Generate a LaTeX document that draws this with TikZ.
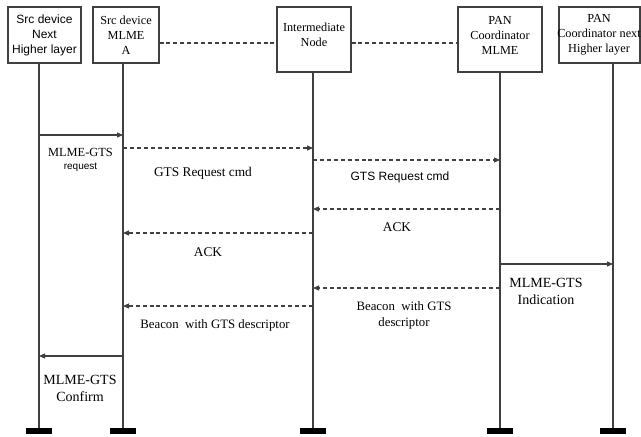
\documentclass[tikz,border=0pt]{standalone}
\usepackage{fontspec}
\setmainfont{Liberation Serif}
\setsansfont{Liberation Sans}
\usetikzlibrary{arrows.meta}
\begin{document}
\begin{tikzpicture}[x=0.75pt,y=-0.75pt,
  lc/.style={draw=black!75, line width=0.8pt},
  box/.style={lc, inner sep=0pt},
  btxt/.style={align=center, inner sep=0pt, font=\fontsize{9.2}{11.25}\selectfont},
  bar/.style={fill=black, inner sep=0pt, minimum width=26*0.75pt, minimum height=6*0.75pt},
  msg/.style={lc, -{Triangle[length=4.5pt,width=3.8pt]}},
  dmsg/.style={msg, dash pattern=on 3pt off 2.2pt},
  dlink/.style={lc, dash pattern=on 3pt off 2.2pt},
  lbl/.style={align=center, inner sep=0pt, font=\fontsize{10}{12.75}\selectfont}
]
\useasboundingbox (0,0) rectangle (641,436);

% boxes
\node[box, minimum width=73*0.75pt, minimum height=56*0.75pt] (box1) at (44.5,35) {};
\node[box, minimum width=66*0.75pt, minimum height=56*0.75pt] (box2) at (126,35) {};
\node[box, minimum width=74*0.75pt, minimum height=65*0.75pt] (box3) at (314,39.5) {};
\node[box, minimum width=84*0.75pt, minimum height=65*0.75pt] (box4) at (500,39.5) {};
\node[box, minimum width=81*0.75pt, minimum height=56*0.75pt] (box5) at (599.5,35) {};

\node[btxt, font=\sffamily\fontsize{9}{11.25}\selectfont] (t1) at (44.5,35) {Src device\\Next\\Higher layer};
\node[btxt] (t2) at (126,35) {Src device\\MLME\\A};
\node[btxt] (t3) at (314,34.5) {Intermediate\\Node};
\node[btxt] (t4) at (500,35) {PAN\\Coordinator\\MLME};
\node[btxt] (t5) at (599,35) {PAN\\Coordinator next\\Higher layer};

\draw[dlink] (box2.east |- 0,43) -- (box3.west |- 0,43);
\draw[dlink] (box3.east |- 0,43) -- (box4.west |- 0,43);

% bars
\node[bar] (b1) at (39,431) {};
\node[bar] (b2) at (123,431) {};
\node[bar] (b3) at (313,431) {};
\node[bar] (b4) at (500,431) {};
\node[bar] (b5) at (613,431) {};

% lifelines
\draw[lc] (box1.south -| b1) -- (b1.north);
\draw[lc] (box2.south -| b2) -- (b2.north);
\draw[lc] (box3.south -| b3) -- (b3.north);
\draw[lc] (box4.south -| b4) -- (b4.north);
\draw[lc] (box5.south -| b5) -- (b5.north);

% messages
\draw[msg]  (b1 |- 0,135) -- (b2 |- 0,135);
\draw[dmsg] (b2 |- 0,148) -- (b3 |- 0,148);
\draw[dmsg] (b3 |- 0,160) -- (b4 |- 0,160);
\draw[dmsg] (b4 |- 0,209) -- (b3 |- 0,209);
\draw[dmsg] (b3 |- 0,233) -- (b2 |- 0,233);
\draw[msg]  (b4 |- 0,264) -- (b5 |- 0,264);
\draw[dmsg] (b4 |- 0,288) -- (b3 |- 0,288);
\draw[dmsg] (b3 |- 0,306) -- (b2 |- 0,306);
\draw[msg]  (b2 |- 0,356) -- (b1 |- 0,356);

% labels
\node[lbl, font=\fontsize{9.3}{11}\selectfont] (m1a) at (80.5,152) {MLME-GTS};
\node[lbl, font=\sffamily\fontsize{7.5}{9}\selectfont] (m1b) at (80.5,167) {request};
\node[lbl] (m2) at (203,173) {GTS Request cmd};
\node[lbl, font=\sffamily\fontsize{9}{11}\selectfont] (m3) at (400,177) {GTS Request cmd};
\node[lbl] (m4) at (397,227) {ACK};
\node[lbl] (m5) at (208,252) {ACK};
\node[lbl, font=\fontsize{10.5}{12.75}\selectfont] (m6) at (546,291.5) {MLME-GTS\\Indication};
\node[lbl, font=\fontsize{9.6}{12}\selectfont] (m7) at (404,315) {Beacon\ \ with GTS\\descriptor};
\node[lbl, font=\fontsize{9.6}{12}\selectfont] (m8) at (215,325) {Beacon\ \ with GTS descriptor};
\node[lbl, font=\fontsize{10.5}{12.75}\selectfont] (m9) at (80,388.5) {MLME-GTS\\Confirm};
\end{tikzpicture}
\end{document}
